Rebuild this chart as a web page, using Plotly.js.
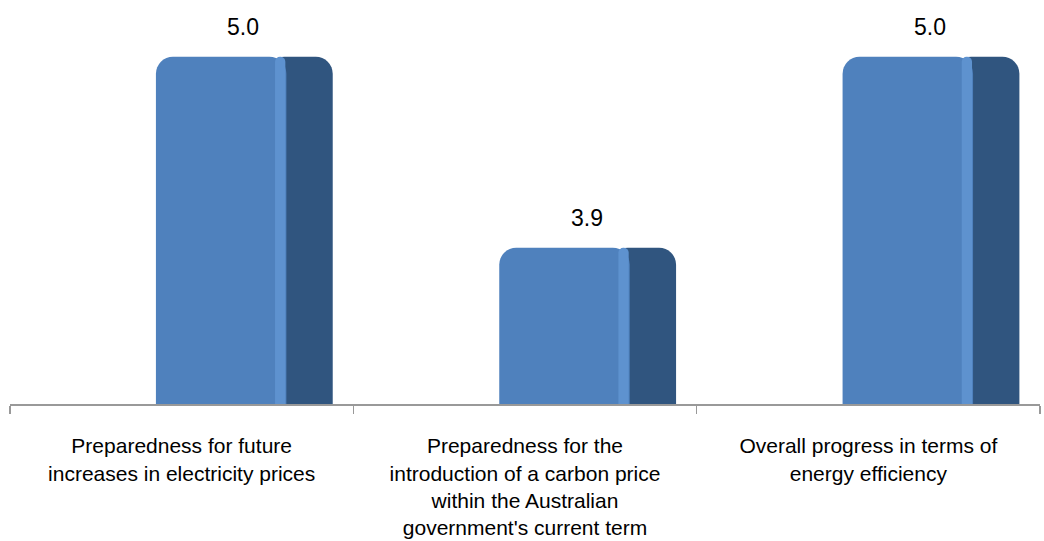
<!DOCTYPE html>
<html>
<head>
<meta charset="utf-8">
<script src="https://cdn.plot.ly/plotly-3.0.1.min.js"></script>
<style>html,body{margin:0;padding:0;background:#fff;}#chart{width:1044px;height:541px;}</style>
</head>
<body>
<div id="chart"></div>
<script>
// Data
var categories = [
  "Preparedness for future<br>increases in electricity prices",
  "Preparedness for the<br>introduction of a carbon price<br>within the Australian<br>government's current term",
  "Overall progress in terms of<br>energy efficiency"
];
var values = [5.0, 3.9, 5.0];
var valueLabels = ["5.0", "3.9", "5.0"];

var FONT = "'Liberation Sans', Arial, sans-serif";

var sideTrace = {
  type: "bar", x: categories, y: values,
  offset: 0.25, width: 0.19,
  marker: {color: "#30557F", cornerradius: 17, line: {width: 0}},
  hoverinfo: "skip", showlegend: false
};
var frontTrace = {
  type: "bar", x: categories, y: values,
  offset: -0.075, width: 0.38,
  marker: {color: "#4F81BD", cornerradius: 17, line: {width: 0}},
  hoverinfo: "skip", showlegend: false
};
var hiTrace = {
  type: "bar", x: categories, y: values,
  offset: 0.272, width: 0.03,
  marker: {color: "#5E92CF", cornerradius: 5, line: {width: 0}},
  hoverinfo: "skip", showlegend: false
};

var annotations = values.map(function(v, i){
  return {
    x: i + 0.18, y: v, xref: "x", yref: "y",
    text: valueLabels[i], showarrow: false,
    yanchor: "middle", yshift: 30,
    font: {family: FONT, size: 23, color: "#000"}
  };
});

var layout = {
  width: 1044, height: 541,
  margin: {l: 10, r: 4, t: 20, b: 137},
  paper_bgcolor: "#fff", plot_bgcolor: "#fff",
  barmode: "overlay",
  showlegend: false,
  font: {family: FONT, size: 21, color: "#000"},
  xaxis: {
    type: "category",
    range: [-0.5, 2.5],
    tickson: "boundaries",
    ticks: "outside", ticklen: 8, tickcolor: "#999999", tickwidth: 1.5,
    showline: true, linecolor: "#999999", linewidth: 2,
    showgrid: false, zeroline: false,
    ticklabelstandoff: 22,
    tickfont: {family: FONT, size: 21, color: "#000"},
    tickangle: 0
  },
  yaxis: {
    range: [3.0, 5.212],
    visible: false, showgrid: false, zeroline: false
  },
  annotations: annotations
};

Plotly.newPlot("chart", [sideTrace, frontTrace, hiTrace], layout, {staticPlot: true, displayModeBar: false});
</script>
</body>
</html>
